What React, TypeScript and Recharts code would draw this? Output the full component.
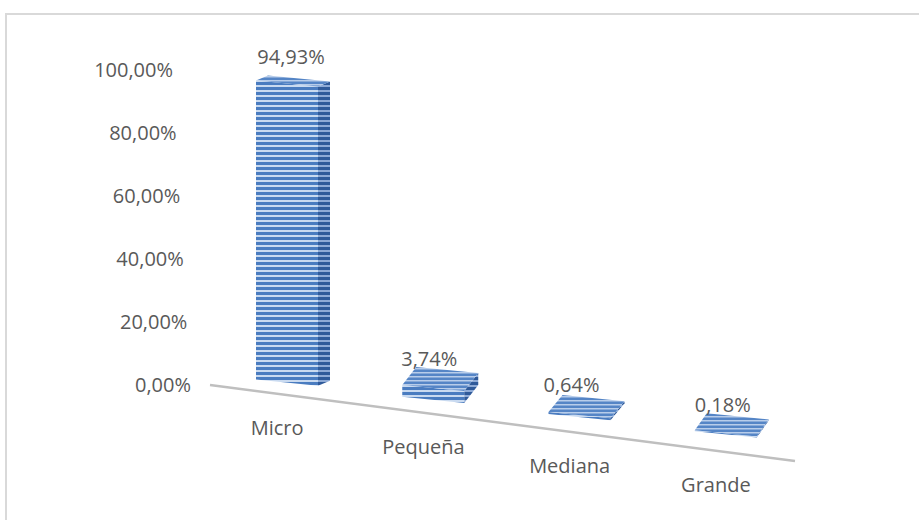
import React from "react";
import { BarChart, Bar, XAxis, YAxis, ReferenceLine } from "recharts";

// values (share of firms by size)
const categories = ["Micro", "Pequeña", "Mediana", "Grande"];
const shares = [94.93, 3.74, 0.64, 0.18];
const yTicks = [0, 20, 40, 60, 80, 100];

const data = categories.map((name, i) => ({ name, value: shares[i] }));

const W = 919;
const H = 520;
const Y_AXIS_W = 210;
const X_AXIS_H = 30;
const MARGIN = { top: 70, right: 124, bottom: 105, left: 0 };
const PLOT_LEFT = MARGIN.left + Y_AXIS_W;
const PLOT_BOTTOM = H - MARGIN.bottom - X_AXIS_H;

// fake perspective of the Excel 3D chart
const FLOOR_SLOPE = 0.13;
const BASE_SLOPE = 0.118;
const EDGE_SKEW = 0.1;
const DEPTH_DX = [12, 14, 14, 12];
const DEPTH_DY = [-5, -18, -17, -17];
const LABEL_GAP = [11, 1, 3, 1];
const LABEL_NUDGE = [4, -4, -8, -3];
const BAR_SHIFT = 4;

const FONT = "'Open Sans', sans-serif";
const TEXT = "#595959";

const fmt = (v: number) => v.toFixed(2).replace(".", ",") + "%";

function Box3D(props: any) {
  const { x, width, height, index, value } = props;
  const x0 = x + BAR_SHIFT;
  const x1 = x0 + width;
  const dx = DEPTH_DX[index];
  const dy = DEPTH_DY[index];
  const h = Math.max(height, 1);
  const bl = PLOT_BOTTOM + (x0 - PLOT_LEFT) * BASE_SLOPE - 11;
  const br = bl + width * EDGE_SKEW;
  const tl = bl - h;
  const tr = tl + width * EDGE_SKEW;
  const front = `${x0},${tl} ${x1},${tr} ${x1},${br} ${x0},${bl}`;
  const top = `${x0},${tl} ${x0 + dx},${tl + dy} ${x1 + dx},${tr + dy} ${x1},${tr}`;
  const side = `${x1},${tr} ${x1 + dx},${tr + dy} ${x1 + dx},${br + dy} ${x1},${br}`;
  return (
    <g>
      <polygon points={front} fill="url(#stripeFront)" />
      <polygon points={side} fill="url(#stripeSide)" />
      <polygon points={top} fill="url(#stripeTop)" />
      <text
        x={x0 + width / 2 + LABEL_NUDGE[index]}
        y={tl + dy - LABEL_GAP[index]}
        textAnchor="middle"
        fontFamily={FONT}
        fontSize={20}
        fill={TEXT}
      >
        {fmt(value)}
      </text>
    </g>
  );
}

function YTick(props: any) {
  const { y, payload } = props;
  const xr = 191 - (PLOT_BOTTOM - y) * 0.057;
  return (
    <text x={xr} y={y} dy={7} textAnchor="end" fontFamily={FONT} fontSize={20} fill={TEXT}>
      {fmt(payload.value)}
    </text>
  );
}

function XTick(props: any) {
  const { x, payload } = props;
  const firstCenter = PLOT_LEFT + (W - MARGIN.right - PLOT_LEFT) / categories.length / 2;
  const y = PLOT_BOTTOM + 50 + (x - firstCenter) * FLOOR_SLOPE;
  return (
    <text x={x - 6} y={y} textAnchor="middle" fontFamily={FONT} fontSize={20} fill={TEXT}>
      {payload.value}
    </text>
  );
}

function Floor(props: any) {
  const { x1, y1, x2 } = props;
  return (
    <line
      x1={x1}
      y1={y1}
      x2={x2}
      y2={y1 + (x2 - x1) * FLOOR_SLOPE}
      stroke="#bfbfbf"
      strokeWidth={2.5}
    />
  );
}

export default function App() {
  return (
    <div style={{ position: "absolute", left: 0, top: 0, width: W, height: H, background: "#fff" }}>
      <div
        style={{
          position: "absolute",
          left: 5,
          top: 13,
          right: 0,
          bottom: 0,
          borderLeft: "2px solid #d9d9d9",
          borderTop: "2px solid #d9d9d9",
        }}
      />
      <svg width={0} height={0} style={{ position: "absolute" }}>
        <defs>
          <pattern id="stripeFront" width="8" height="5" patternUnits="userSpaceOnUse">
            <rect width="8" height="5" fill="#4a7cc0" />
            <rect width="8" height="2" fill="#c9daf0" />
          </pattern>
          <pattern id="stripeSide" width="8" height="5" patternUnits="userSpaceOnUse">
            <rect width="8" height="5" fill="#2f5a9a" />
            <rect width="8" height="2" fill="#8eaad6" />
          </pattern>
          <pattern id="stripeTop" width="8" height="4" patternUnits="userSpaceOnUse">
            <rect width="8" height="4" fill="#5585c6" />
            <rect width="8" height="1.5" fill="#b8cdea" />
          </pattern>
        </defs>
      </svg>
      <div style={{ position: "absolute", left: 0, top: 0 }}>
        <BarChart width={W} height={H} data={data} margin={MARGIN} barSize={62}>
          <XAxis
            dataKey="name"
            height={X_AXIS_H}
            axisLine={false}
            tickLine={false}
            interval={0}
            tick={<XTick />}
          />
          <YAxis
            width={Y_AXIS_W}
            domain={[0, 100]}
            ticks={yTicks}
            axisLine={false}
            tickLine={false}
            tick={<YTick />}
          />
          <ReferenceLine y={0} shape={<Floor />} />
          <Bar dataKey="value" shape={<Box3D />} isAnimationActive={false} />
        </BarChart>
      </div>
    </div>
  );
}
